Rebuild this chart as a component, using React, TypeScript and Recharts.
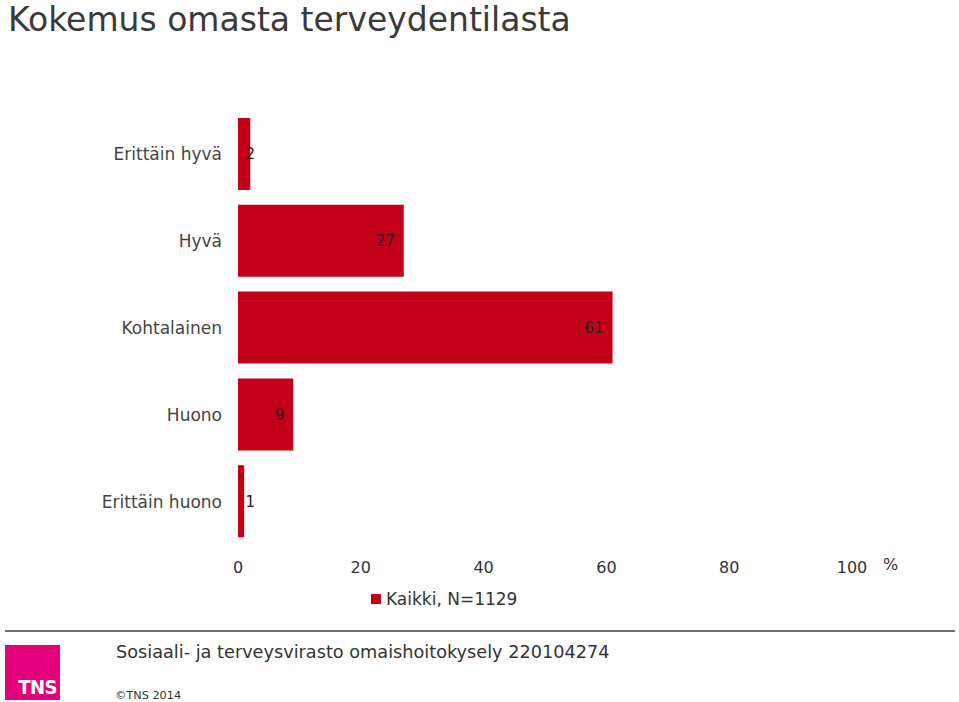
import React from "react";
import { BarChart, Bar, XAxis, YAxis, Legend, LabelList } from "recharts";

const categories = ["Erittäin hyvä", "Hyvä", "Kohtalainen", "Huono", "Erittäin huono"];
const values = [2, 27, 61, 9, 1];
const xTicks = [0, 20, 40, 60, 80, 100];
const seriesName = "Kaikki, N=1129";

const data = categories.map((c, i) => ({ name: c, value: values[i] }));

const FONT = "'DejaVu Sans', Verdana, sans-serif";
const TEXT = "#333333";
const RED = "#c20018";

const ValueLabel = (props: any) => {
  const { x, y, width, height, value } = props;
  const end = Math.max(x + width - 9, x + 17);
  return (
    <text x={end} y={y + height / 2} dy="0.36em" textAnchor="end" fontSize={15} fill="#222" fontFamily={FONT}>
      {value}
    </text>
  );
};

const LegendContent = (props: any) => {
  const { payload } = props;
  return (
    <div style={{ display: "flex", flexDirection: "column" }}>
      {(payload || []).map((p: any, i: number) => (
        <div key={i} style={{ display: "flex", alignItems: "center", fontSize: 17, color: TEXT, fontFamily: FONT, whiteSpace: "nowrap" }}>
          <span style={{ display: "inline-block", width: 10, height: 10, background: p.color, marginRight: 5 }} />
          <span>{p.value}</span>
        </div>
      ))}
    </div>
  );
};

export default function App() {
  return (
    <div style={{ position: "absolute", left: 0, top: 0, width: 959, height: 702, background: "#fff", fontFamily: FONT, color: TEXT, overflow: "hidden" }}>
      <div style={{ position: "absolute", left: 8, top: 0, fontSize: 33, lineHeight: "normal", whiteSpace: "nowrap", color: "#3a3a3a" }}>
        Kokemus omasta terveydentilasta
      </div>
      <div style={{ position: "absolute", left: 0, top: 0 }}>
        <BarChart width={959} height={620} data={data} layout="vertical" margin={{ top: 111, right: 107, bottom: 25, left: 0 }} barSize={72}>
          <XAxis
            type="number"
            domain={[0, 100]}
            ticks={xTicks}
            axisLine={false}
            tickLine={false}
            tickSize={0}
            tickMargin={17}
            tick={{ fontSize: 16, fill: TEXT, fontFamily: FONT }}
            height={30}
            interval={0}
          />
          <YAxis
            type="category"
            dataKey="name"
            width={238}
            axisLine={false}
            tickLine={false}
            tickSize={0}
            tickMargin={16}
            tick={{ fontSize: 17, fill: "#444", fontFamily: FONT }}
            interval={0}
          />
          <Legend
            content={<LegendContent />}
            wrapperStyle={{ position: "absolute", left: 371, top: 589, width: 220 }}
          />
          <Bar dataKey="value" name={seriesName} fill={RED} isAnimationActive={false}>
            <LabelList dataKey="value" content={<ValueLabel />} />
          </Bar>
        </BarChart>
      </div>
      <div style={{ position: "absolute", left: 883, top: 555, fontSize: 16, color: TEXT }}>%</div>
      <div style={{ position: "absolute", left: 5, top: 630, width: 950, height: 2, background: "#6e6e6e" }} />
      <div style={{ position: "absolute", left: 5, top: 645, width: 55, height: 55, background: "#e5007d" }}>
        <div style={{ position: "absolute", right: 3, bottom: 1, color: "#fff", fontWeight: "bold", fontSize: 20, fontFamily: "'DejaVu Sans Condensed', 'Liberation Sans Narrow', sans-serif", letterSpacing: -0.5 }}>TNS</div>
      </div>
      <div style={{ position: "absolute", left: 116, top: 642, fontSize: 17.7, whiteSpace: "nowrap", color: TEXT }}>
        Sosiaali- ja terveysvirasto omaishoitokysely 220104274
      </div>
      <div style={{ position: "absolute", left: 115, top: 689, fontSize: 11.3, whiteSpace: "nowrap", color: TEXT }}>©TNS 2014</div>
    </div>
  );
}
